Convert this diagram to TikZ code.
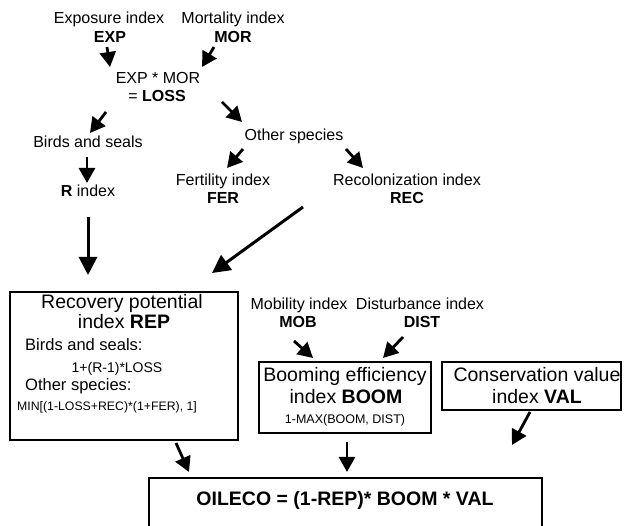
\documentclass[tikz,border=0pt]{standalone}
\usepackage{fontspec}
\setmainfont{Liberation Sans}
\usetikzlibrary{arrows.meta}
\begin{document}
\begin{tikzpicture}[x=1pt,y=-1pt,
  lab/.style={inner sep=0pt, text height=0.72em, text depth=0pt, font=\fontsize{16}{18}\selectfont},
  big/.style={inner sep=0pt, text height=0.72em, text depth=0pt, font=\fontsize{19.5}{22}\selectfont},
  frm/.style={inner sep=0pt, text height=0.72em, text depth=0pt, font=\fontsize{14}{16}\selectfont},
  frmsm/.style={inner sep=0pt, text height=0.72em, text depth=0pt, font=\fontsize{12.3}{14}\selectfont},
  arr/.style={line width=2.8pt, -{Triangle[length=15pt,width=16pt]}},
  arrlong/.style={line width=3pt, -{Triangle[length=18pt,width=18pt]}},
  boxn/.style={draw, line width=2.8pt, inner sep=0pt, outer sep=0pt}]
\useasboundingbox (0,0) rectangle (625,526);
\clip (0,0) rectangle (625,526);
\fill[white] (0,0) rectangle (625,526);

% top labels
\node[lab] (expl) at (109,20) {Exposure index};
\node[lab] (exp) at (110,39) {\bfseries EXP};
\node[lab] (morl) at (233,20) {Mortality index};
\node[lab] (mor) at (233,39) {\bfseries MOR};
\node[lab] (loss1) at (158,80) {EXP * MOR};
\node[lab] (loss2) at (157,98) {= \bfseries LOSS};
\node[lab] (birds) at (88,144) {Birds and seals};
\node[lab] (other) at (294,137) {Other species};
\node[lab] (rind) at (88,193) {\bfseries R\mdseries{} index};
\node[lab] (ferl) at (223,182) {Fertility index};
\node[lab] (fer) at (223,200) {\bfseries FER};
\node[lab] (recl) at (407,182) {Recolonization index};
\node[lab] (rec) at (407,200) {\bfseries REC};

% REP box
\node[boxn, minimum width=228pt, minimum height=148pt] (rep) at (124,366) {};
\node[big] (rept1) at (122,305) {Recovery potential};
\node[big] (rept2) at (124,325) {index \bfseries REP};
\node[lab, font=\fontsize{16.5}{18}\selectfont, anchor=west] (repb) at (25,347) {Birds and seals:};
\node[frm] (repf1) at (117,369) {1+(R-1)*LOSS};
\node[lab, font=\fontsize{16.5}{18}\selectfont, anchor=west] (repo) at (25,387) {Other species:};
\node[frmsm] (repf2) at (107,407) {MIN[(1-LOSS+REC)*(1+FER), 1]};

% mobility / disturbance
\node[lab] (mobl) at (299,306) {Mobility index};
\node[lab] (mob) at (298,324) {\bfseries MOB};
\node[lab] (distl) at (420,306) {Disturbance index};
\node[lab] (dist) at (422,324) {\bfseries DIST};

% BOOM box
\node[boxn, minimum width=172pt, minimum height=71pt] (boom) at (345,397.5) {};
\node[big] (boomt1) at (345,378) {Booming efficiency};
\node[big] (boomt2) at (346,400) {index \bfseries BOOM};
\node[inner sep=0pt, text height=0.72em, text depth=0pt, font=\fontsize{12.5}{14}\selectfont] (boomf) at (345,420) {1-MAX(BOOM, DIST)};

% VAL box
\node[boxn, minimum width=179pt, minimum height=48pt] (val) at (531.5,386) {};
\node[big] (valt1) at (537,378) {Conservation value};
\node[big] (valt2) at (537,400) {index \bfseries VAL};

% OILECO box
\node[boxn, minimum width=393pt, minimum height=70pt] (oil) at (345.5,513) {};
\node[big] (oilt) at (345,502) {\bfseries OILECO = (1-REP)* BOOM * VAL};

% arrow end points
\coordinate (a1s) at (107,47);  \coordinate (a1e) at (110,67);
\coordinate (a2s) at (214,47);  \coordinate (a2e) at (202,67);
\coordinate (a3s) at (106,112); \coordinate (a3e) at (90,133);
\coordinate (a4s) at (222,102); \coordinate (a4e) at (242,122);
\coordinate (a5s) at (87,157);  \coordinate (a5e) at (87,183);
\coordinate (a6s) at (243,149); \coordinate (a6e) at (227,168);
\coordinate (a7s) at (346,149); \coordinate (a7e) at (363,168);
\coordinate (a8s) at (88,217);  \coordinate (a8e) at (88,275);
\coordinate (a9s) at (303,207); \coordinate (a9e) at (212,273);
\coordinate (a10s) at (294,341); \coordinate (a10e) at (313,358);
\coordinate (a11s) at (403,337); \coordinate (a11e) at (383,358);
\coordinate (a12s) at (176,443); \coordinate (a12e) at (189,472);
\coordinate (a13s) at (347,442); \coordinate (a13e) at (347,472);
\coordinate (a14s) at (530,412); \coordinate (a14e) at (512,445);

\foreach \i in {1,...,7,10,11,12,13,14} {\draw[arr] (a\i s) -- (a\i e);}
\foreach \i in {8,9} {\draw[arrlong] (a\i s) -- (a\i e);}
\end{tikzpicture}
\end{document}
